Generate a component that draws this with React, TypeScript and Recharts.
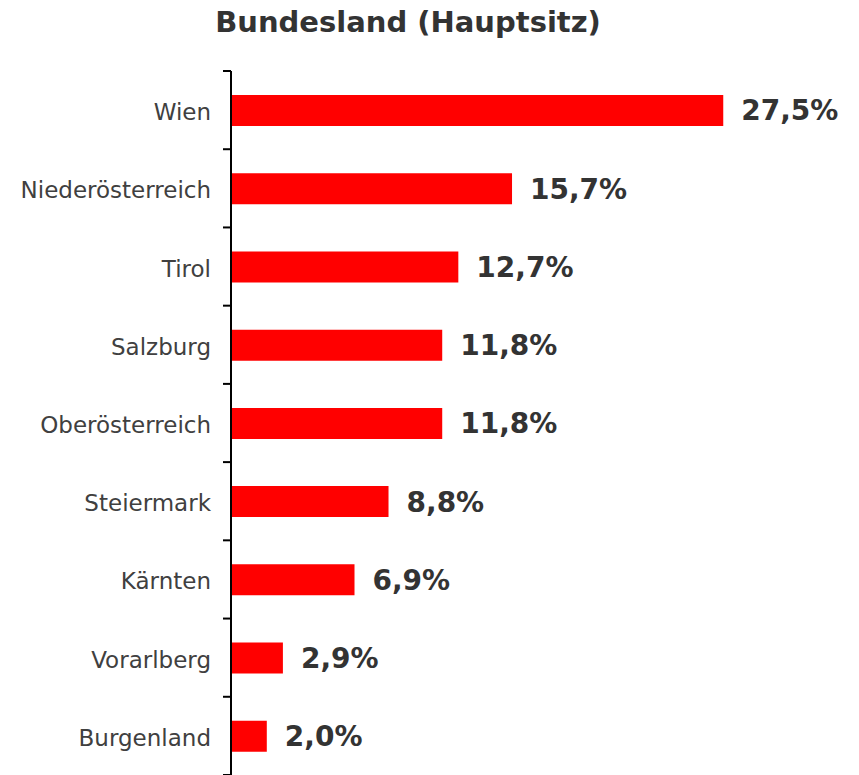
import { BarChart, Bar, XAxis, YAxis, LabelList } from 'recharts';

const categories = ['Wien', 'Niederösterreich', 'Tirol', 'Salzburg', 'Oberösterreich', 'Steiermark', 'Kärnten', 'Vorarlberg', 'Burgenland'];
const shares = [27.5, 15.7, 12.7, 11.8, 11.8, 8.8, 6.9, 2.9, 2.0];

const data = categories.map((name, i) => ({ name, share: shares[i] }));

const FONT = 'Verdana, "DejaVu Sans", sans-serif';

function CategoryTick(props: any) {
  const { x, y, payload, index, visibleTicksCount } = props;
  const half = payload.offset ?? 0;
  const isLast = index === visibleTicksCount - 1;
  return (
    <g>
      <line x1={x - 8} x2={x} y1={y - half} y2={y - half} stroke="#000" strokeWidth={2} />
      {isLast && <line x1={x - 8} x2={x} y1={y + half} y2={y + half} stroke="#000" strokeWidth={2} />}
      <text x={x - 20} y={y} dy={10} textAnchor="end" fill="#404040" fontSize={23} fontFamily={FONT}>
        {payload.value}
      </text>
    </g>
  );
}

export default function App() {
  return (
    <div style={{ position: 'absolute', left: 0, top: 0, width: 859, height: 775, background: '#fff' }}>
      <div
        style={{
          position: 'absolute',
          top: 5,
          left: 0,
          width: 816,
          textAlign: 'center',
          fontFamily: FONT,
          fontWeight: 'bold',
          fontSize: 29,
          color: '#333',
        }}
      >
        Bundesland (Hauptsitz)
      </div>
      <BarChart
        width={859}
        height={775}
        data={data}
        layout="vertical"
        margin={{ top: 71, right: 91, bottom: 0, left: 0 }}
      >
        <XAxis type="number" domain={[0, 30]} hide />
        <YAxis
          type="category"
          dataKey="name"
          width={231}
          axisLine={{ stroke: '#000', strokeWidth: 2 }}
          tickLine={false}
          tickSize={0}
          tickMargin={0}
          interval={0}
          tick={<CategoryTick />}
        />
        <Bar dataKey="share" fill="#ff0000" barSize={31} isAnimationActive={false}>
          <LabelList
            dataKey="share"
            position="right"
            offset={18}
            formatter={(v: any) => `${Number(v).toFixed(1).replace('.', ',')}%`}
            fill="#333"
            fontSize={28}
            fontWeight="bold"
            fontFamily={FONT}
          />
        </Bar>
      </BarChart>
    </div>
  );
}
